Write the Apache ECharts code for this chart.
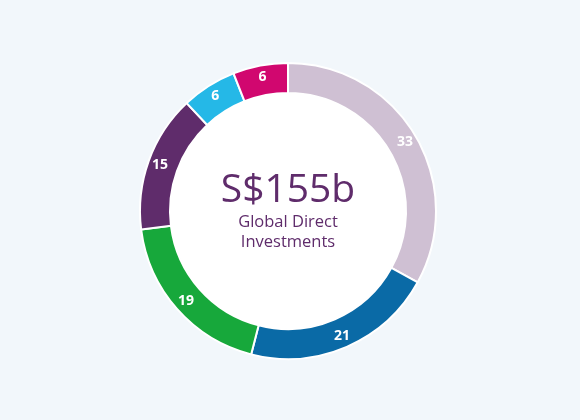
<!DOCTYPE html>
<html>
<head>
<meta charset="utf-8">
<script src="https://cdn.jsdelivr.net/npm/echarts@6/dist/echarts.min.js"></script>
<style>
  html, body { margin: 0; padding: 0; background: #f2f7fb; }
  #chart { width: 580px; height: 420px; }
</style>
</head>
<body>
<div id="chart"></div>
<script>
  // segment values, clockwise from 12 o'clock
  var names = ['A', 'B', 'C', 'D', 'E', 'F'];
  var values = [33, 21, 19, 15, 6, 6];
  var colors = ['#cfc0d3', '#0a6aa6', '#17a83b', '#5f2c6b', '#25b8e7', '#d1076f'];
  var totalText = 'S$155b';
  var subLines = ['Global Direct', 'Investments'];

  var chart = echarts.init(document.getElementById('chart'));
  var data = [];
  for (var i = 0; i < values.length; i++) {
    data.push({ name: names[i], value: values[i], itemStyle: { color: colors[i] } });
  }

  function centerText(txt, y, size) {
    return {
      type: 'text',
      z: 100,
      style: {
        text: txt,
        x: 288,
        y: y,
        align: 'center',
        verticalAlign: 'middle',
        fontFamily: 'Open Sans',
        fontSize: size,
        fill: '#5f2c6b'
      }
    };
  }

  chart.setOption({
    backgroundColor: '#f2f7fb',
    animation: false,
    series: [
      {
        type: 'pie',
        center: [288, 211],
        radius: [0, 119],
        silent: true,
        label: { show: false },
        itemStyle: { color: '#ffffff' },
        data: [{ value: 1 }]
      },
      {
        type: 'pie',
        center: [288, 211],
        radius: [118, 148],
        startAngle: 90,
        clockwise: true,
        avoidLabelOverlap: false,
        itemStyle: { borderColor: '#ffffff', borderWidth: 2 },
        label: {
          show: true,
          position: 'inside',
          formatter: '{c}',
          color: '#ffffff',
          fontFamily: 'Open Sans',
          fontWeight: 'bold',
          fontSize: 14
        },
        labelLine: { show: false },
        data: data
      }
    ],
    graphic: [
      centerText(totalText, 191, 39),
      centerText(subLines[0], 222, 16.5),
      centerText(subLines[1], 242, 16.5)
    ]
  });
</script>
</body>
</html>
